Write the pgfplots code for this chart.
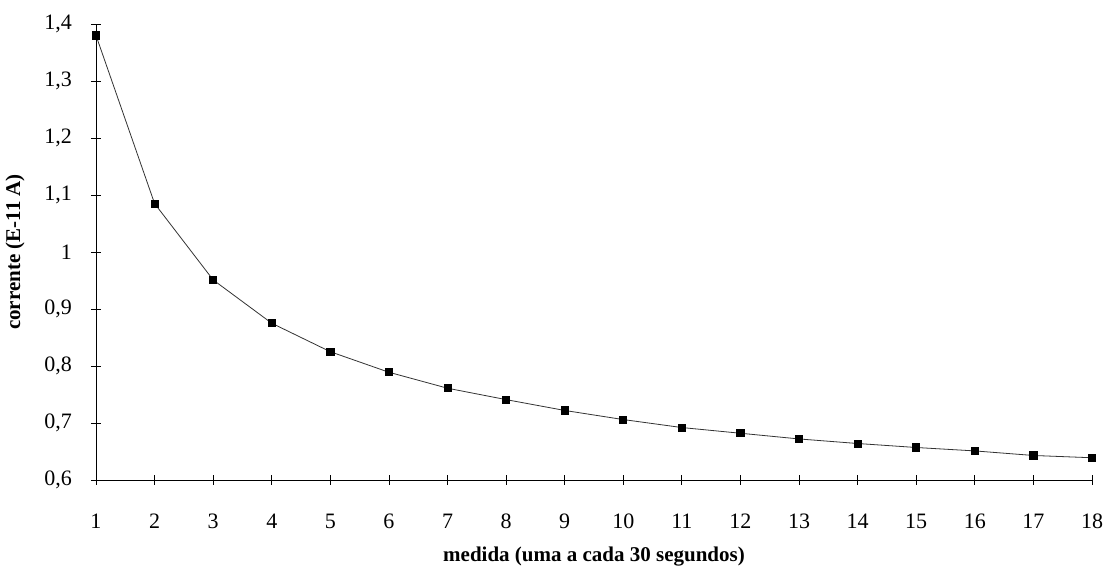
\documentclass[border=0pt]{standalone}
\usepackage{fontspec}
\setmainfont{Liberation Serif}
\usepackage{pgfplots}
\pgfplotsset{compat=1.18}

\begin{document}
\begin{tikzpicture}
\begin{axis}[
    scale only axis,
    width=498pt,
    height=228pt,
    xmin=1, xmax=18,
    ymin=0.6, ymax=1.4,
    axis lines*=left,
    xtick={1,...,18},
    ytick={0.6,0.7,...,1.4},
    tick align=center,
    major tick length=5pt,
    tick style={black, thin},
    axis line style={black, thin},
    /pgf/number format/assume math mode=true,
    /pgf/number format/use comma,
    yticklabel style={/pgf/number format/fixed, /pgf/number format/precision=1},
    ticklabel style={font=\fontsize{11}{13}\selectfont},
    xticklabel style={yshift=-11pt},
    yticklabel style={xshift=-6pt},
    xlabel={\textbf{medida (uma a cada 30 segundos)}},
    ylabel={\textbf{corrente (E-11 A)}},
    label style={font=\fontsize{10.5}{12}\selectfont},
    xlabel style={yshift=-2pt},
    ylabel style={yshift=3pt},
    clip=false,
]
\addplot[black!80, line width=0.4pt, mark=square*, mark size=1.8pt,
  mark options={fill=black, draw=black}] coordinates {
    (1, 1.380) (2, 1.085) (3, 0.951) (4, 0.875) (5, 0.825) (6, 0.789)
    (7, 0.761) (8, 0.741) (9, 0.722) (10, 0.706) (11, 0.692) (12, 0.682)
    (13, 0.672) (14, 0.664) (15, 0.657) (16, 0.651) (17, 0.643) (18, 0.639)
};
\end{axis}
\pgfresetboundingbox
\path ([shift={(-48pt,-44.5pt)}]current axis.south west)
  rectangle ([shift={(7.5pt,12pt)}]current axis.north east);
\end{tikzpicture}
\end{document}
